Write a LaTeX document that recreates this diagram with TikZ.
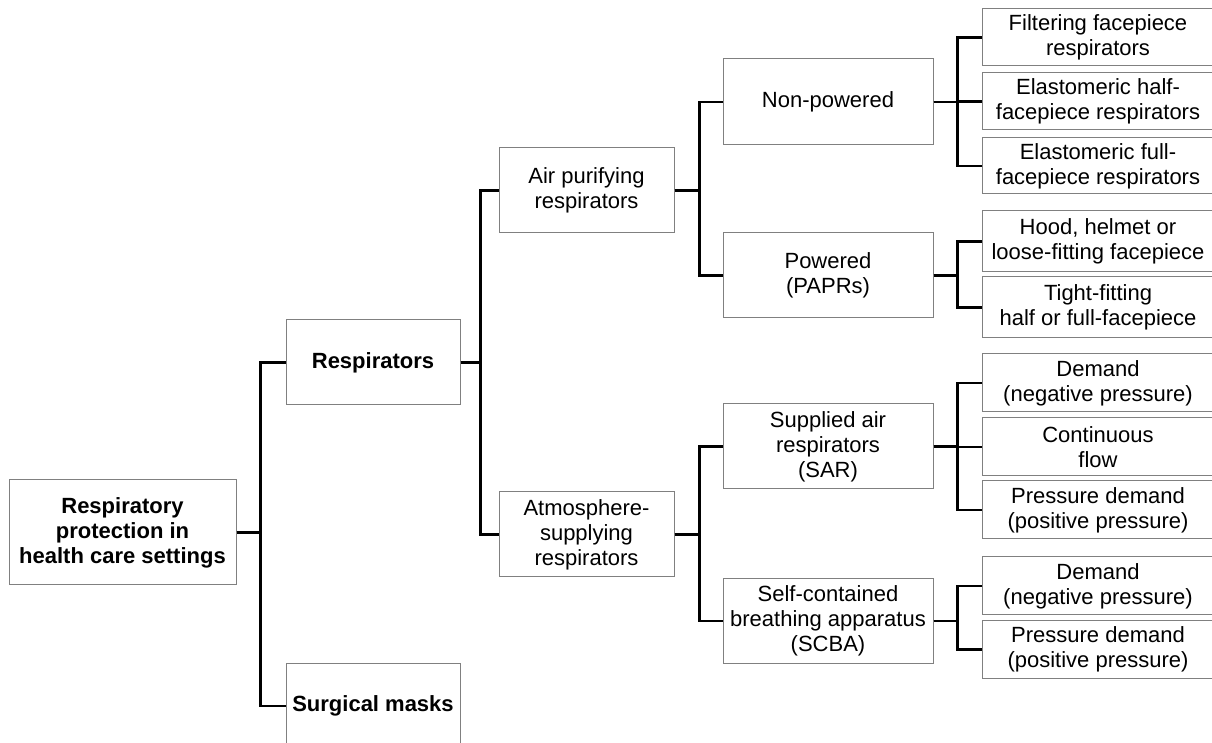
\documentclass[tikz,border=0pt]{standalone}
\usepackage{fontspec}
\setmainfont{Liberation Sans}
\usepackage{tikz}
\definecolor{boxgray}{rgb}{0.5, 0.5, 0.5}
\tikzset{
	catbox/.style 2 args={draw=boxgray, line width=0.5pt, align=center, inner sep=0pt, minimum width=#1*0.5pt, minimum height=#2*0.5pt, font=\fontsize{11}{12.5}\selectfont},
	link/.style={line width=1.1pt, line join=miter}
}

\begin{document}
\begin{tikzpicture}[x=0.5pt, y=-0.5pt]
			\useasboundingbox (0,0) rectangle (1212,743);
			% level 0 and 1
			\node[catbox={227}{105}, font=\fontsize{11}{12.5}\selectfont\bfseries] (root) at (122.5,532.5) {Respiratory\\protection in\\health care settings};
			\node[catbox={174}{85}, font=\fontsize{11}{12.5}\selectfont\bfseries] (resp) at (373,362.5) {Respirators};
			\node[catbox={174}{86}, font=\fontsize{11}{12.5}\selectfont\bfseries] (surg) at (373,706) {Surgical masks};
			
			% level 2
			\node[catbox={175}{85}] (air) at (586.5,190.5) {Air purifying\\respirators};
			\node[catbox={175}{85}] (atm) at (586.5,534.5) {Atmosphere-\\supplying\\respirators};
			
			% level 3
			\node[catbox={210}{86}] (nonp) at (828,102) {Non-powered};
			\node[catbox={210}{85}] (pow) at (828,275.5) {Powered\\(PAPRs)};
			\node[catbox={210}{85}] (sar) at (828,446.5) {Supplied air\\respirators\\(SAR)};
			\node[catbox={210}{84}] (scba) at (828,621) {Self-contained\\breathing apparatus\\(SCBA)};
			
			% level 4
			\node[catbox={232}{57}] (ffr) at (1098,37.5) {Filtering facepiece\\respirators};
			\node[catbox={232}{57}] (ehf) at (1098,101.5) {Elastomeric half-\\facepiece respirators};
			\node[catbox={232}{56}] (eff) at (1098,166) {Elastomeric full-\\facepiece respirators};
			\node[catbox={232}{61}] (hood) at (1098,241.5) {Hood, helmet or\\loose-fitting facepiece};
			\node[catbox={232}{61}] (tff) at (1098,307.5) {Tight-fitting\\half or full-facepiece};
			\node[catbox={232}{58}] (sdn) at (1098,383) {Demand\\(negative pressure)};
			\node[catbox={232}{58}] (scf) at (1098,447) {Continuous\\flow};
			\node[catbox={232}{58}] (spd) at (1098,510) {Pressure demand\\(positive pressure)};
			\node[catbox={232}{58}] (bdn) at (1098,586) {Demand\\(negative pressure)};
			\node[catbox={232}{57}] (bpd) at (1098,649.5) {Pressure demand\\(positive pressure)};
			
			% connectors
			\draw[link] (root.east) -- ++(24,0) |- (resp.west);
			\draw[link] (root.east) -- ++(24,0) |- (surg.west);
			\draw[link] (resp.east) -- ++(20,0) |- (air.west);
			\draw[link] (resp.east) -- ++(20,0) |- (atm.west);
			\draw[link] (air.east) -- ++(25,0) |- (nonp.west);
			\draw[link] (air.east) -- ++(25,0) |- (pow.west);
			\draw[link] (atm.east) -- ++(25,0) |- (sar.west);
			\draw[link] (atm.east) -- ++(25,0) |- (scba.west);
			\draw[link] (nonp.east) -- ++(24,0) |- (ffr.west);
			\draw[link] (nonp.east) -- ++(24,0) |- (ehf.west);
			\draw[link] (nonp.east) -- ++(24,0) |- (eff.west);
			\draw[link] (pow.east) -- ++(24,0) |- (hood.west);
			\draw[link] (pow.east) -- ++(24,0) |- (tff.west);
			\draw[link] (sar.east) -- ++(24,0) |- (sdn.west);
			\draw[link] (sar.east) -- ++(24,0) |- (scf.west);
			\draw[link] (sar.east) -- ++(24,0) |- (spd.west);
			\draw[link] (scba.east) -- ++(24,0) |- (bdn.west);
			\draw[link] (scba.east) -- ++(24,0) |- (bpd.west);
			
			
			\end{tikzpicture}
\end{document}
